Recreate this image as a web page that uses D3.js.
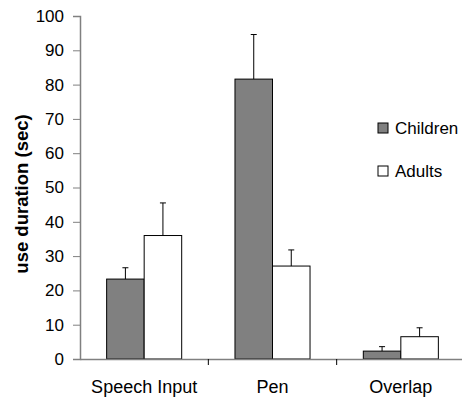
<!doctype html>
<html>
<head>
<meta charset="utf-8">
<script src="https://d3js.org/d3.v7.min.js"></script>
<style>
  body { margin: 0; background: #fff; }
  text { font-family: Arial, "Liberation Sans", sans-serif; fill: #000; }
</style>
</head>
<body>
<div id="chart"></div>
<script>
// data
var categories = ["Speech Input", "Pen", "Overlap"];
var seriesNames = ["Children", "Adults"];
var childrenMean = [23.3, 81.6, 2.3];
var adultsMean = [36.0, 27.1, 6.5];
var childrenErr = [3.3, 13.0, 1.3];
var adultsErr = [9.5, 4.7, 2.6];
var yTicks = [0, 10, 20, 30, 40, 50, 60, 70, 80, 90, 100];

var colors = { Children: "#808080", Adults: "#ffffff" };

var W = 462, H = 401;
var marginLeft = 80, marginTop = 16, plotH = 343;

var svg = d3.select("#chart").append("svg")
    .attr("width", W)
    .attr("height", H);

var x = d3.scaleBand().domain(categories).range([marginLeft, 465]);
var xs = d3.scaleBand().domain(seriesNames).range([0, x.bandwidth()]).paddingOuter(0.71);
var y = d3.scaleLinear().domain([0, 100]).range([marginTop + plotH, marginTop]);

var rows = categories.map(function(c, i) {
  return { cat: c, vals: [
    { s: "Children", v: childrenMean[i], e: childrenErr[i] },
    { s: "Adults", v: adultsMean[i], e: adultsErr[i] }
  ]};
});

// y axis
var yAxis = svg.append("g")
    .attr("transform", "translate(" + marginLeft + ",0)")
    .call(d3.axisLeft(y).tickValues(yTicks).tickSize(7).tickPadding(9));
yAxis.select(".domain").attr("stroke", "#808080").attr("stroke-width", 1.5);
yAxis.selectAll(".tick line").attr("stroke", "#808080");
yAxis.selectAll(".tick text").attr("font-size", 17).attr("fill", "#000")
    .attr("font-family", "Arial, 'Liberation Sans', sans-serif");

// bars
var groups = svg.selectAll(".grp").data(rows).enter().append("g")
    .attr("transform", function(d) { return "translate(" + x(d.cat) + ",0)"; });

groups.selectAll("rect").data(function(d) { return d.vals; }).enter().append("rect")
    .attr("x", function(d) { return xs(d.s); })
    .attr("y", function(d) { return y(d.v); })
    .attr("width", xs.bandwidth())
    .attr("height", function(d) { return y(0) - y(d.v); })
    .attr("fill", function(d) { return colors[d.s]; })
    .attr("stroke", "#000")
    .attr("stroke-width", 1);

// error bars
groups.selectAll(".err").data(function(d) { return d.vals; }).enter().append("path")
    .attr("fill", "none")
    .attr("stroke", "#000")
    .attr("d", function(d) {
      var cx = xs(d.s) + xs.bandwidth() / 2;
      return "M" + cx + "," + y(d.v) + "V" + y(d.v + d.e) +
             "M" + (cx - 3) + "," + y(d.v + d.e) + "H" + (cx + 3);
    });

// x axis
var xAxis = svg.append("g")
    .attr("transform", "translate(0," + y(0) + ")")
    .call(d3.axisBottom(x).tickSize(0).tickPadding(21));
xAxis.select(".domain").attr("stroke", "#808080").attr("stroke-width", 1.5);
xAxis.selectAll(".tick text").attr("font-size", 18).attr("fill", "#000")
    .attr("font-family", "Arial, 'Liberation Sans', sans-serif");
xAxis.selectAll(".sep").data(categories.slice(0, categories.length - 1)).enter().append("line")
    .attr("x1", function(d) { return x(d) + x.bandwidth(); })
    .attr("x2", function(d) { return x(d) + x.bandwidth(); })
    .attr("y1", 0).attr("y2", 6)
    .attr("stroke", "#000");

// y label
svg.append("text")
    .attr("transform", "translate(28," + 194 + ") rotate(-90)")
    .attr("text-anchor", "middle")
    .attr("font-size", 18.5)
    .attr("font-weight", "bold")
    .text("use duration (sec)");

// legend
var legend = svg.selectAll(".leg").data(seriesNames).enter().append("g")
    .attr("transform", function(d, i) { return "translate(378," + (123 + i * 43) + ")"; });
legend.append("rect")
    .attr("width", 10).attr("height", 10)
    .attr("fill", function(d) { return colors[d]; })
    .attr("stroke", "#000");
legend.append("text")
    .attr("x", 17).attr("y", 11)
    .attr("font-size", 17)
    .text(function(d) { return d; });
</script>
</body>
</html>
